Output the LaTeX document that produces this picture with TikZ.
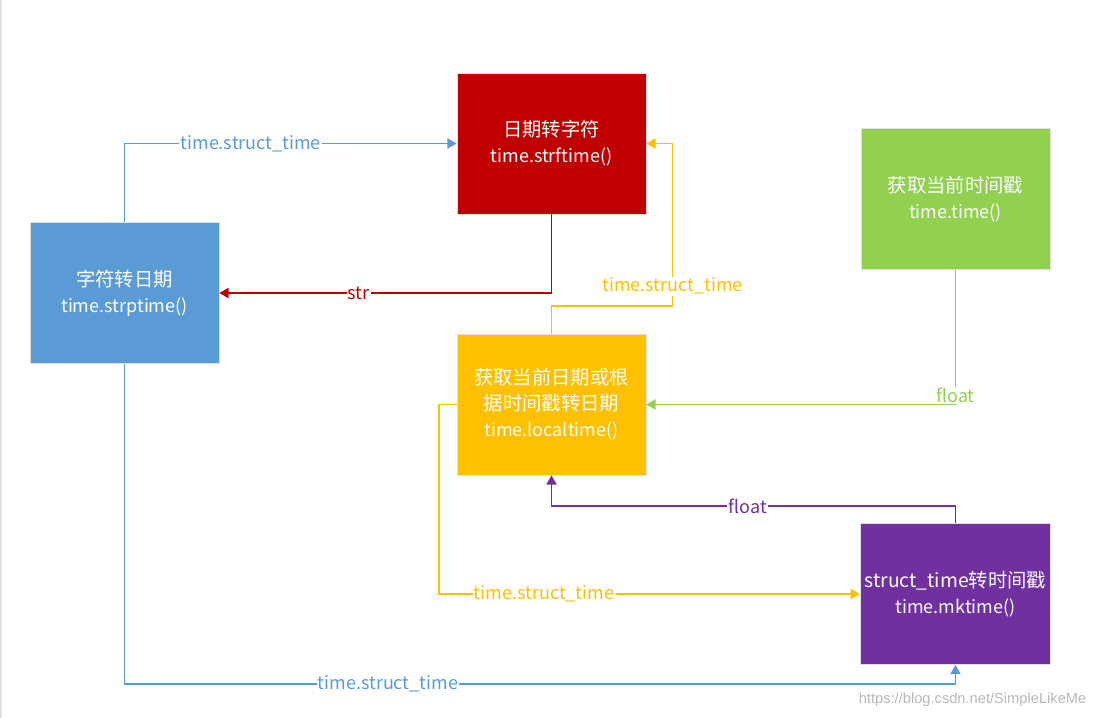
\documentclass[tikz,border=0pt]{standalone}
\usepackage{fontspec}
\setmainfont{Noto Sans CJK SC}
\newfontfamily\markfont{Liberation Sans}
\usetikzlibrary{arrows.meta}
\definecolor{boxred}{HTML}{C00000}
\definecolor{boxblue}{HTML}{5B9BD5}
\definecolor{boxyellow}{HTML}{FFC000}
\definecolor{boxgreen}{HTML}{92D050}
\definecolor{boxpurple}{HTML}{7030A0}
\begin{document}
\begin{tikzpicture}[x=0.75pt,y=-0.75pt,>={Triangle[length=7pt,width=7.5pt]},
box/.style={draw=gray!25,text=white,minimum width=141.75pt,minimum height=105.75pt,align=center,font=\fontsize{14.5}{19.5}\selectfont},
lab/.style={fill=white,inner sep=1pt,font=\fontsize{13.5}{16}\selectfont},
link/.style={->,line width=1.4pt}]
\useasboundingbox(0,0)rectangle(1097,718);
\draw[black!12,line width=1.5pt](1,0)--(1,718);
\node[box,fill=boxred](strf)at(551.5,143.5){日期转字符\\{\fontsize{13.5}{19.5}\selectfont time.strftime()}};
\node[box,fill=boxblue](strp)at(124.5,293){字符转日期\\{\fontsize{13.5}{19.5}\selectfont time.strptime()}};
\node[box,fill=boxyellow](local)at(551.5,404.5){获取当前日期或根\\据时间戳转日期\\{\fontsize{13.5}{19.5}\selectfont time.localtime()}};
\node[box,fill=boxgreen](now)at(955.5,199){获取当前时间戳\\{\fontsize{13.5}{19.5}\selectfont time.time()}};
\node[box,fill=boxpurple](mk)at(955.5,594){struct\_time转时间戳\\{\fontsize{13.5}{19.5}\selectfont time.mktime()}};
\draw[link,boxblue](strp.north)|-(strf.west)node[lab,pos=0.69]{time.struct\_time};
\draw[link,boxred](strf.south)|-(strp.east)node[lab,pos=0.79]{str};
\draw[link,boxyellow](local.north)|-++(121,-28)|-(strf.east)node[lab,pos=0.06]{time.struct\_time};
\draw[link,boxgreen](now.south)|-(local.east)node[lab,pos=0.467]{float};
\draw[link,boxpurple](mk.north)--++(0,-17)-|(local.south)node[lab,pos=0.257]{float};
\draw[link,boxyellow](local.west)--++(-18,0)|-(mk.west)node[lab,pos=0.625]{time.struct\_time};
\draw[link,boxblue](strp.south)|-++(831,320)--(mk.south);
\node[lab]at(388,684)[text=boxblue]{time.struct\_time};
\node[anchor=east,text=black!28,font=\markfont\fontsize{11}{13}\selectfont](mark)at(1091,700){https://blog.csdn.net/SimpleLikeMe};
\end{tikzpicture}
\end{document}
